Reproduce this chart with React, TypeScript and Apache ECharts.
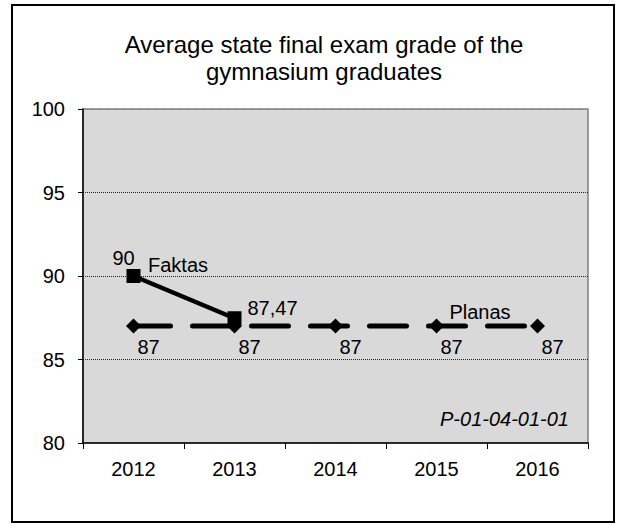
import React, { useEffect, useRef } from "react";
import * as echarts from "echarts";

const years = ["2012", "2013", "2014", "2015", "2016"];
const faktas: (number | null)[] = [90, 87.47, null, null, null];
const planas: number[] = [87, 87, 87, 87, 87];
const titleLines = ["Average state final exam grade of the", "gymnasium graduates"];
const codeText = "P-01-04-01-01";

const FONT = "Liberation Sans, Arial, sans-serif";

const fmt = (v: number) => String(v).replace(".", ",");

export default function App() {
  const ref = useRef<HTMLDivElement>(null);
  useEffect(() => {
    if (!ref.current) return;
    const chart = echarts.init(ref.current, undefined, { renderer: "svg" });
    const faktasData = faktas.map((v, i) =>
      v === null
        ? null
        : {
            value: v,
            label:
              i === 0
                ? { position: "top", distance: 1, offset: [-10, 0] }
                : { position: "right", distance: 5, offset: [1, -10] },
          }
    );
    chart.setOption({
      animation: false,
      backgroundColor: "#ffffff",
      textStyle: { fontFamily: FONT },
      grid: {
        left: 83,
        right: 36,
        top: 109,
        bottom: 81,
        show: true,
        backgroundColor: "#d9d9d9",
        borderColor: "#808080",
        borderWidth: 1.5,
      },
      xAxis: {
        type: "category",
        data: years,
        boundaryGap: true,
        axisLine: { show: true, lineStyle: { color: "#000", width: 1.5 } },
        axisTick: { show: true, length: 6, inside: false, alignWithLabel: false, lineStyle: { color: "#000", width: 1 } },
        axisLabel: { color: "#000", fontSize: 20, fontFamily: FONT, margin: 16 },
        splitLine: { show: false },
      },
      yAxis: {
        type: "value",
        min: 80,
        max: 100,
        interval: 5,
        axisLine: { show: true, lineStyle: { color: "#000", width: 1.5 } },
        axisTick: { show: true, length: 5, inside: false, lineStyle: { color: "#000", width: 1 } },
        axisLabel: { color: "#000", fontSize: 20, fontFamily: FONT, margin: 18 },
        splitLine: {
          show: true,
          lineStyle: {
            color: ["#d9d9d9", "#222", "#222", "#222", "#808080"],
            type: [1, 1],
            width: 1,
          },
        },
      },
      series: [
        {
          name: "Planas",
          type: "line",
          data: planas,
          symbol: "diamond",
          symbolSize: 15,
          itemStyle: { color: "#000" },
          lineStyle: { color: "#000", width: 5, type: [37, 22], cap: "round" },
          label: {
            show: true,
            position: "bottom",
            distance: 3,
            offset: [15, 0],
            color: "#000",
            fontSize: 20,
            fontFamily: FONT,
            formatter: (p: any) => fmt(p.value),
          },
          z: 2,
        },
        {
          name: "Faktas",
          type: "line",
          data: faktasData,
          symbol: "rect",
          symbolSize: 14,
          itemStyle: { color: "#000" },
          lineStyle: { color: "#000", width: 4.5 },
          label: {
            show: true,
            color: "#000",
            fontSize: 20,
            fontFamily: FONT,
            formatter: (p: any) => fmt(p.value),
          },
          z: 3,
        },
      ],
      graphic: [
        {
          type: "rect",
          shape: { x: 12, y: 5, width: 602, height: 517 },
          style: { fill: "none", stroke: "#000", lineWidth: 2 },
          z: 100,
        },
        {
          type: "text",
          x: 324,
          y: 31,
          style: {
            text: titleLines.join("\n"),
            font: `24px ${FONT}`,
            fill: "#000",
            align: "center",
            verticalAlign: "top",
            lineHeight: 27,
          },
        },
        {
          type: "text",
          x: 178,
          y: 265,
          style: { text: "Faktas", font: `20px ${FONT}`, fill: "#000", align: "center", verticalAlign: "middle" },
          z: 100,
        },
        {
          type: "text",
          x: 480,
          y: 312,
          style: { text: "Planas", font: `20px ${FONT}`, fill: "#000", align: "center", verticalAlign: "middle" },
          z: 100,
        },
        {
          type: "text",
          x: 569,
          y: 419,
          style: { text: codeText, font: `italic 20px ${FONT}`, fill: "#000", align: "right", verticalAlign: "middle" },
          z: 100,
        },
      ],
    });
    return () => chart.dispose();
  }, []);
  return (
    <div
      ref={ref}
      style={{ position: "absolute", left: 0, top: 0, width: 624, height: 524, background: "#fff" }}
    />
  );
}
